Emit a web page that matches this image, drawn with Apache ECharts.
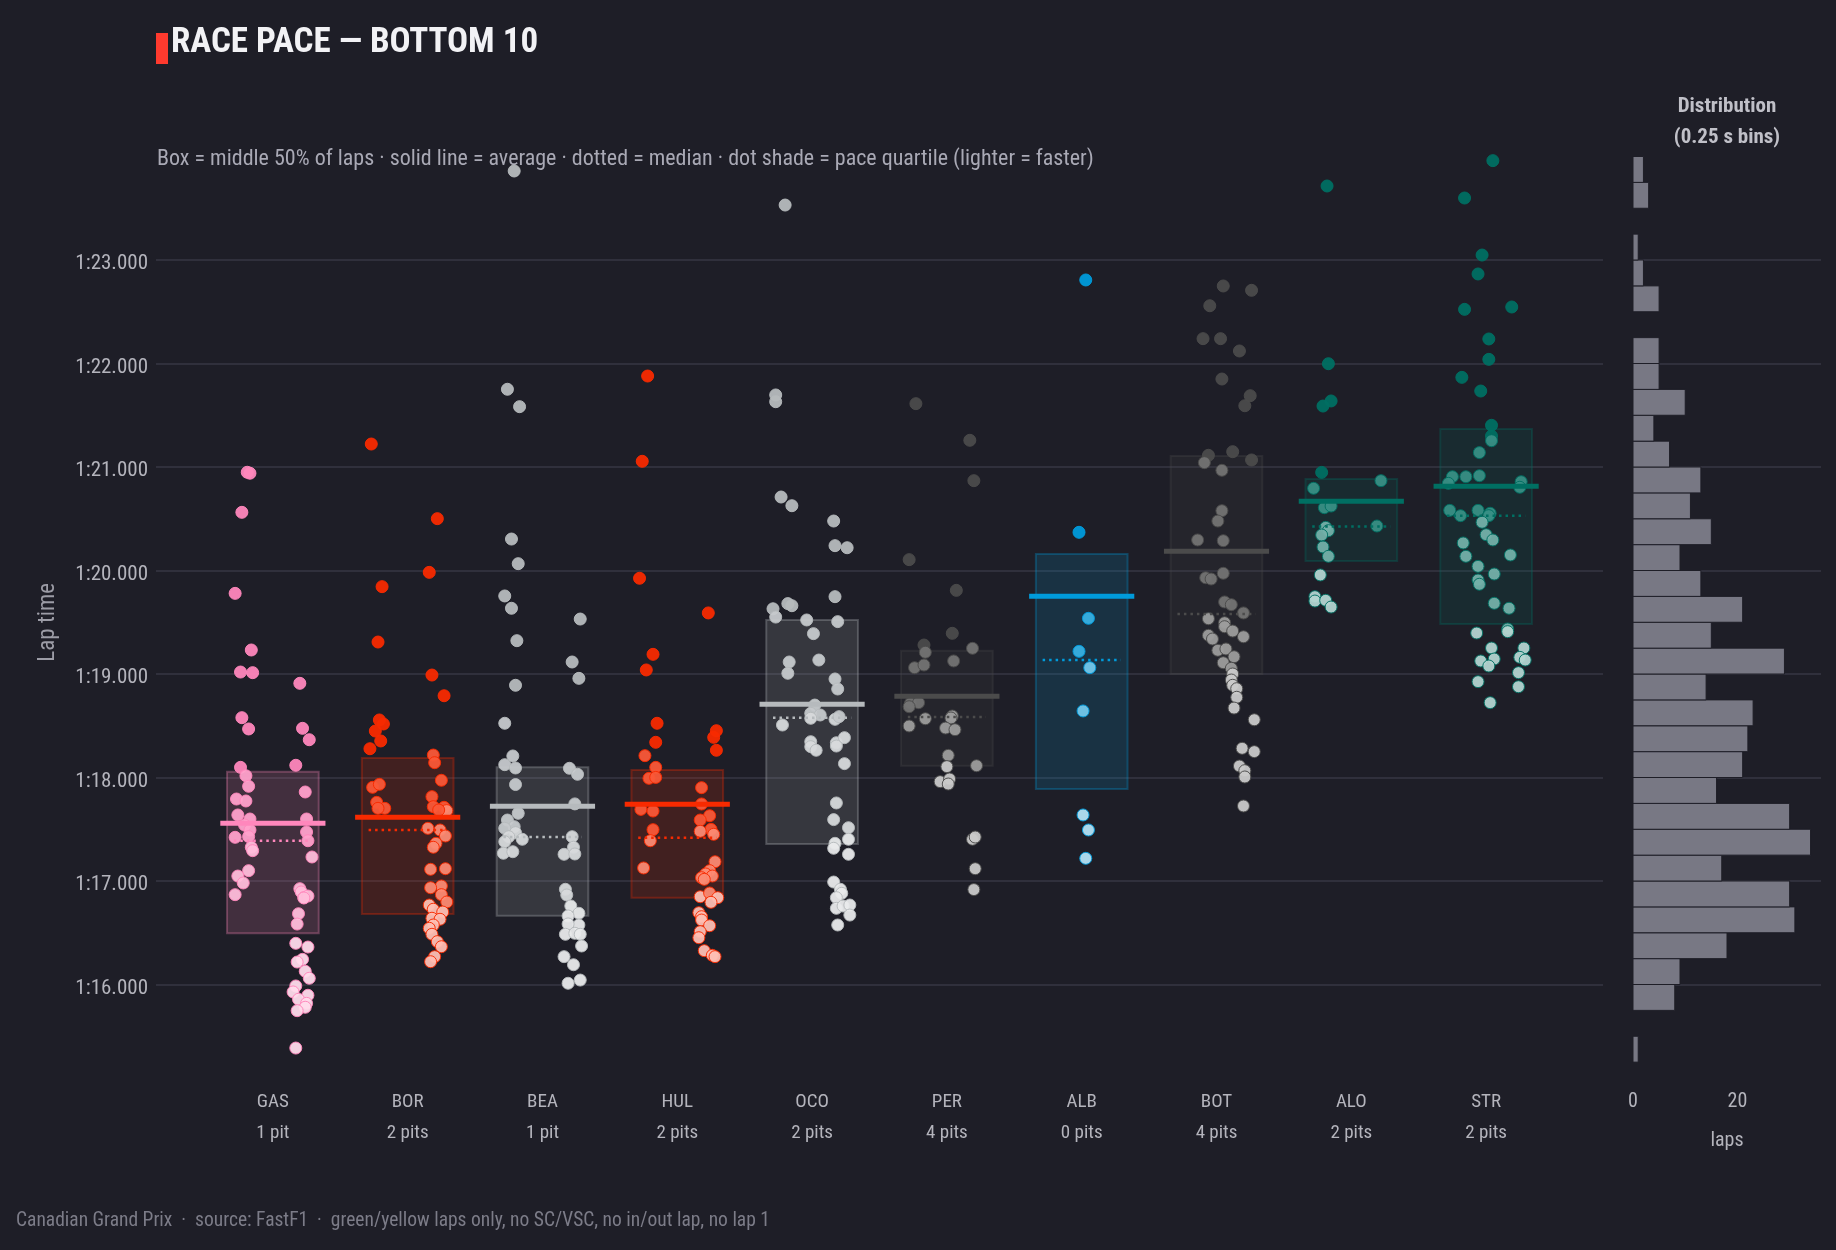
<!DOCTYPE html>
<html>
<head>
<meta charset="utf-8">
<script src="https://cdn.jsdelivr.net/npm/echarts@6/dist/echarts.min.js"></script>
<style>
  html, body { margin: 0; background: #1e1e27; }
  #chart { width: 1836px; height: 1250px; }
</style>
</head>
<body>
<div id="chart"></div>
<script>
// drivers (slowest 10 by race pace)
const drivers = ["GAS", "BOR", "BEA", "HUL", "OCO", "PER", "ALB", "BOT", "ALO", "STR"];
const pitLabels = ["1 pit", "2 pits", "1 pit", "2 pits", "2 pits", "4 pits", "0 pits", "4 pits", "2 pits", "2 pits"];
const teamColors = ["#ff87bc", "#f82a00", "#b6babd", "#f82a00", "#b6babd", "#4b4b4b", "#009bdb", "#4b4b4b", "#006f62", "#006f62"];

// box stats, seconds
const q3Times = [78.056, 78.188, 78.098, 78.072, 79.522, 79.225, 80.159, 81.106, 80.884, 81.367];
const q1Times = [76.495, 76.681, 76.665, 76.839, 77.357, 78.114, 77.889, 79.0, 80.092, 79.483];
const meanTimes = [77.557, 77.615, 77.722, 77.741, 78.707, 78.784, 79.751, 80.185, 80.669, 80.813];
const medianTimes = [77.389, 77.493, 77.425, 77.419, 78.578, 78.585, 79.135, 79.58, 80.424, 80.53];

// laps: [jitter, lap time in s]
const lapsGAS = [[-0.19,80.949],[-0.17,80.94],[-0.23,80.562],[-0.28,79.779],[-0.16,79.232],[-0.24,79.019],[-0.15,79.013],[0.20,78.91],[-0.23,78.578],[-0.18,78.469],[0.22,78.475],[0.27,78.365],[-0.24,78.098],[0.17,78.118],[-0.20,78.017],[-0.18,77.915],[0.24,77.86],[-0.27,77.792],[-0.20,77.773],[-0.26,77.638],[-0.17,77.599],[0.25,77.599],[-0.21,77.541],[-0.17,77.493],[-0.28,77.422],[-0.18,77.429],[0.25,77.473],[0.26,77.389],[-0.16,77.326],[-0.15,77.293],[0.29,77.232],[-0.18,77.1],[-0.26,77.048],[-0.22,76.981],[-0.28,76.868],[0.20,76.926],[0.21,76.894],[0.23,76.839],[0.26,76.855],[0.23,76.836],[0.19,76.684],[0.18,76.584],[0.17,76.398],[0.26,76.362],[0.22,76.243],[0.18,76.217],[0.24,76.128],[0.27,76.06],[0.17,75.986],[0.15,75.928],[0.26,75.896],[0.19,75.857],[0.25,75.818],[0.24,75.78],[0.18,75.747],[0.17,75.386]];
const lapsBOR = [[-0.27,81.222],[0.22,80.501],[0.16,79.982],[-0.19,79.844],[-0.22,79.309],[0.18,78.99],[0.27,78.79],[-0.21,78.556],[-0.18,78.517],[-0.24,78.449],[-0.20,78.353],[-0.28,78.278],[0.19,78.217],[0.20,78.143],[0.25,77.973],[-0.26,77.905],[-0.21,77.934],[0.18,77.815],[-0.23,77.76],[-0.17,77.702],[-0.22,77.702],[0.19,77.718],[0.27,77.712],[0.29,77.68],[0.23,77.686],[0.15,77.509],[0.24,77.493],[0.28,77.435],[0.21,77.364],[0.19,77.326],[0.17,77.113],[0.28,77.119],[0.25,76.952],[0.17,76.935],[0.25,76.868],[0.29,76.797],[0.16,76.768],[0.19,76.727],[0.26,76.7],[0.18,76.64],[0.24,76.63],[0.19,76.575],[0.16,76.543],[0.18,76.485],[0.22,76.414],[0.25,76.365],[0.20,76.269],[0.17,76.22]];
const lapsBEA = [[-0.21,83.86],[-0.26,81.751],[-0.17,81.583],[-0.23,80.304],[-0.18,80.066],[-0.28,79.754],[-0.23,79.635],[0.28,79.531],[-0.19,79.322],[0.22,79.116],[0.27,78.958],[-0.20,78.891],[-0.28,78.524],[-0.22,78.208],[-0.28,78.124],[-0.20,78.092],[0.20,78.089],[0.26,78.031],[-0.20,77.932],[0.24,77.745],[-0.18,77.654],[-0.26,77.589],[-0.21,77.525],[-0.28,77.509],[-0.20,77.467],[-0.25,77.428],[-0.28,77.38],[-0.15,77.403],[-0.29,77.268],[-0.22,77.283],[0.22,77.428],[0.23,77.326],[0.16,77.258],[0.24,77.261],[0.17,76.92],[0.18,76.865],[0.21,76.759],[0.27,76.688],[0.19,76.662],[0.27,76.575],[0.19,76.585],[0.17,76.485],[0.24,76.495],[0.28,76.485],[0.29,76.372],[0.16,76.269],[0.23,76.191],[0.19,76.012],[0.28,76.043]];
const lapsHUL = [[-0.22,81.879],[-0.26,81.055],[-0.28,79.925],[0.23,79.59],[-0.18,79.19],[-0.23,79.039],[-0.15,78.524],[0.29,78.452],[0.27,78.388],[-0.16,78.34],[0.29,78.263],[-0.24,78.211],[-0.16,78.098],[-0.21,77.992],[-0.16,78.001],[0.18,77.902],[0.18,77.744],[-0.27,77.692],[-0.18,77.676],[0.24,77.631],[0.17,77.589],[0.25,77.499],[0.17,77.48],[0.27,77.451],[-0.18,77.496],[-0.20,77.389],[0.28,77.186],[-0.25,77.126],[0.24,77.1],[0.21,77.068],[0.18,77.032],[0.26,77.048],[0.20,77.016],[0.17,76.848],[0.24,76.884],[0.30,76.839],[0.25,76.794],[0.16,76.694],[0.18,76.655],[0.18,76.623],[0.24,76.568],[0.17,76.51],[0.16,76.452],[0.20,76.327],[0.26,76.282],[0.28,76.269]];
const lapsOCO = [[-0.20,83.531],[-0.27,81.696],[-0.27,81.631],[-0.23,80.71],[-0.15,80.626],[0.16,80.478],[0.17,80.24],[0.26,80.22],[0.17,79.747],[-0.29,79.63],[-0.18,79.68],[-0.15,79.66],[-0.27,79.55],[-0.04,79.522],[0.19,79.506],[0.01,79.39],[-0.17,79.116],[-0.18,79.007],[0.05,79.135],[0.17,78.952],[0.19,78.855],[0.02,78.7],[-0.01,78.62],[0.06,78.604],[-0.01,78.572],[0.17,78.562],[0.20,78.588],[-0.22,78.507],[-0.01,78.346],[-0.01,78.298],[0.03,78.263],[0.18,78.336],[0.24,78.385],[0.18,78.304],[0.24,78.134],[0.18,77.754],[0.16,77.593],[0.27,77.515],[0.27,77.403],[0.17,77.364],[0.16,77.316],[0.27,77.258],[0.16,76.99],[0.21,76.92],[0.22,76.881],[0.18,76.839],[0.18,76.736],[0.23,76.758],[0.28,76.768],[0.28,76.671],[0.19,76.575]];
const lapsPER = [[-0.23,81.612],[0.17,81.258],[0.20,80.868],[-0.28,80.105],[0.07,79.808],[0.04,79.393],[-0.17,79.28],[-0.16,79.21],[0.19,79.248],[0.05,79.126],[-0.24,79.061],[-0.17,79.087],[-0.27,78.717],[-0.21,78.723],[-0.28,78.684],[-0.16,78.568],[0.04,78.594],[0.03,78.575],[-0.28,78.498],[-0.01,78.478],[0.06,78.462],[0.01,78.214],[0.00,78.105],[0.22,78.114],[-0.05,77.96],[0.02,77.986],[0.01,77.937],[0.19,77.403],[0.21,77.425],[0.21,77.119],[0.20,76.917]];
const lapsALB = [[0.03,82.807],[-0.02,80.369],[0.05,79.538],[-0.02,79.219],[0.06,79.061],[0.01,78.643],[0.01,77.638],[0.05,77.493],[0.03,77.219]];
const lapsBOT = [[0.05,82.749],[0.26,82.707],[-0.05,82.558],[-0.10,82.24],[0.03,82.24],[0.17,82.121],[0.04,81.85],[0.25,81.689],[0.21,81.592],[0.12,81.148],[-0.06,81.113],[-0.09,81.042],[0.04,80.968],[0.26,81.068],[0.04,80.578],[0.01,80.478],[-0.14,80.295],[0.05,80.288],[-0.08,79.93],[-0.04,79.918],[0.05,79.973],[0.06,79.696],[0.11,79.67],[0.20,79.59],[-0.06,79.534],[0.06,79.496],[0.06,79.457],[0.12,79.415],[0.20,79.36],[-0.06,79.374],[-0.03,79.338],[0.01,79.229],[0.07,79.242],[0.13,79.167],[0.05,79.109],[0.11,79.055],[0.12,79.0],[0.11,78.942],[0.12,78.891],[0.15,78.858],[0.15,78.775],[0.13,78.671],[0.28,78.558],[0.19,78.282],[0.28,78.25],[0.17,78.111],[0.21,78.066],[0.21,78.005],[0.20,77.725]];
const lapsALO = [[-0.18,83.715],[-0.17,81.998],[-0.15,81.638],[-0.21,81.589],[-0.22,80.948],[-0.28,80.794],[0.22,80.868],[-0.20,80.607],[-0.15,80.623],[-0.19,80.417],[-0.17,80.385],[0.19,80.43],[-0.22,80.343],[-0.21,80.227],[-0.17,80.137],[-0.23,79.957],[-0.27,79.747],[-0.27,79.705],[-0.19,79.712],[-0.15,79.647]];
const lapsSTR = [[0.05,83.96],[-0.16,83.599],[-0.03,83.048],[-0.06,82.865],[-0.16,82.523],[0.19,82.546],[0.02,82.237],[0.02,82.04],[-0.18,81.866],[-0.04,81.734],[0.04,81.403],[0.04,81.3],[0.04,81.254],[-0.05,81.139],[-0.25,80.906],[-0.15,80.906],[-0.05,80.916],[-0.28,80.842],[0.26,80.858],[0.25,80.804],[-0.27,80.581],[-0.19,80.53],[-0.06,80.581],[0.03,80.553],[0.02,80.53],[-0.03,80.466],[0.00,80.346],[0.05,80.295],[-0.17,80.266],[-0.15,80.137],[0.18,80.15],[-0.06,80.04],[0.06,79.966],[-0.06,79.908],[-0.05,79.867],[0.06,79.683],[0.17,79.635],[0.16,79.435],[0.16,79.409],[-0.07,79.396],[0.04,79.251],[0.28,79.251],[-0.04,79.126],[0.06,79.145],[0.02,79.077],[0.25,79.161],[0.29,79.135],[0.24,79.013],[-0.06,78.926],[0.24,78.877],[0.03,78.723]];
const allLaps = [lapsGAS, lapsBOR, lapsBEA, lapsHUL, lapsOCO, lapsPER, lapsALB, lapsBOT, lapsALO, lapsSTR];

// histogram of all laps, 0.25 s bins from 75.25 upward
const histStart = 75.25;
const histBin = 0.25;
const histCounts = [1, 0, 8, 9, 18, 31, 30, 17, 34, 30, 16, 21, 22, 23, 14, 29, 15, 21, 13, 9, 15, 11, 13, 7, 4, 10, 5, 5, 0, 5, 2, 1, 0, 3, 2];

const FONT = "'Liberation Sans Narrow', 'Roboto Condensed', Roboto, sans-serif";
const BG = "#1e1e27";
const GRID = "#30303c";

function fmtLap(v) {
  const m = Math.floor(v / 60);
  const s = v - m * 60;
  return m + ":" + (s < 10 ? "0" : "") + s.toFixed(3);
}

function hexToRgb(h) {
  return [parseInt(h.slice(1, 3), 16), parseInt(h.slice(3, 5), 16), parseInt(h.slice(5, 7), 16)];
}
function rgba(h, a) {
  const c = hexToRgb(h);
  return "rgba(" + c.join(",") + "," + a + ")";
}
function tint(h, f) {
  const c = hexToRgb(h).map(function (x) { return Math.round(x + (255 - x) * f); });
  return "rgb(" + c.join(",") + ")";
}

// lighter = faster: tint by pace quartile within each driver
const shadeByQuartile = [0.7, 0.45, 0.22, 0];

const scatterSeries = allLaps.map(function (laps, i) {
  const sorted = laps.map(function (p) { return p[1]; }).sort(function (a, b) { return a - b; });
  const n = sorted.length;
  const data = laps.map(function (p) {
    const rank = sorted.indexOf(p[1]);
    const q = Math.min(3, Math.floor(rank * 4 / n));
    return { value: [i + p[0], p[1]], itemStyle: { color: tint(teamColors[i], shadeByQuartile[q]) } };
  });
  return {
    type: "scatter",
    name: drivers[i],
    xAxisIndex: 0,
    yAxisIndex: 0,
    symbolSize: 12,
    z: 3,
    itemStyle: { borderColor: teamColors[i], borderWidth: 1, opacity: 0.95 },
    data: data
  };
});

const statData = drivers.map(function (d, i) {
  return [i, q1Times[i], q3Times[i], meanTimes[i], medianTimes[i]];
});

const chart = echarts.init(document.getElementById("chart"));

chart.setOption({
  backgroundColor: BG,
  animation: false,
  textStyle: { fontFamily: FONT },
  grid: [
    { left: 156, top: 156.5, width: 1447, height: 931.5 },
    { left: 1633, top: 156.5, width: 188, height: 931.5 }
  ],
  xAxis: [
    {
      type: "value", gridIndex: 0, min: -0.867, max: 9.867,
      axisLine: { show: false }, axisTick: { show: false }, splitLine: { show: false },
      axisLabel: {
        customValues: [0, 1, 2, 3, 4, 5, 6, 7, 8, 9],
        margin: 2,
        formatter: function (v) {
          const k = Math.round(v);
          return "{a|" + drivers[k] + "}\n{b|" + pitLabels[k] + "}";
        },
        rich: {
          a: { fontFamily: FONT, fontSize: 19, lineHeight: 24, color: "#b4b4bc" },
          b: { fontFamily: FONT, fontSize: 19, lineHeight: 38, color: "#b4b4bc" }
        }
      }
    },
    {
      type: "value", gridIndex: 1, min: 0, max: 36, interval: 20,
      name: "laps", nameLocation: "middle", nameGap: 43,
      nameTextStyle: { fontFamily: FONT, fontSize: 20, color: "#b4b4bc" },
      axisLine: { show: false }, axisTick: { show: false }, splitLine: { show: false },
      axisLabel: { showMaxLabel: false, margin: 4, fontFamily: FONT, fontSize: 20, color: "#b4b4bc" }
    }
  ],
  yAxis: [
    {
      type: "value", gridIndex: 0, min: 75, max: 84, interval: 1,
      name: "Lap time", nameLocation: "middle", nameGap: 96, nameRotate: 90,
      nameTextStyle: { fontFamily: FONT, fontSize: 23, color: "#9c9ca6" },
      axisLine: { show: false }, axisTick: { show: false },
      splitLine: { show: true, showMinLine: false, showMaxLine: false, lineStyle: { color: GRID, width: 2 } },
      axisLabel: {
        showMinLabel: false, showMaxLabel: false, margin: 8,
        formatter: function (v) { return "{t|" + fmtLap(v) + "}"; },
        rich: {
          t: { fontFamily: FONT, fontSize: 21, color: "#b4b4bc", padding: [8, 0, 0, 0] }
        }
      }
    },
    {
      type: "value", gridIndex: 1, min: 75, max: 84, interval: 1,
      axisLine: { show: false }, axisTick: { show: false }, axisLabel: { show: false },
      splitLine: { show: true, showMinLine: false, showMaxLine: false, lineStyle: { color: GRID, width: 2 } }
    }
  ],
  graphic: [
    { type: "rect", shape: { x: 156, y: 33, width: 12, height: 31 }, style: { fill: "#ff3a2e" } },
    { type: "text", x: 171, y: 43, style: { text: "RACE PACE — BOTTOM 10", fill: "#f2f2f5", font: "bold 35px " + FONT, textVerticalAlign: "middle" } },
    { type: "text", x: 157, y: 159, style: { text: "Box = middle 50% of laps · solid line = average · dotted = median · dot shade = pace quartile (lighter = faster)", fill: "#a9a9b5", font: "22px " + FONT, textVerticalAlign: "middle" } },
    { type: "text", x: 1727, y: 107, style: { text: "Distribution", fill: "#c0c0c8", font: "bold 21px " + FONT, textAlign: "center", textVerticalAlign: "middle" } },
    { type: "text", x: 1727, y: 138, style: { text: "(0.25 s bins)", fill: "#c0c0c8", font: "bold 21px " + FONT, textAlign: "center", textVerticalAlign: "middle" } },
    { type: "text", x: 16, y: 1221, style: { text: "Canadian Grand Prix  ·  source: FastF1  ·  green/yellow laps only, no SC/VSC, no in/out lap, no lap 1", fill: "#7c7c88", font: "19.5px " + FONT, textVerticalAlign: "middle" } }
  ],
  series: [
    // boxes: middle 50% of laps
    {
      type: "custom", xAxisIndex: 0, yAxisIndex: 0, z: 1,
      data: statData,
      renderItem: function (params, api) {
        const i = api.value(0);
        const a = api.coord([i - 0.34, api.value(2)]);
        const b = api.coord([i + 0.34, api.value(1)]);
        return {
          type: "rect",
          shape: { x: a[0], y: a[1], width: b[0] - a[0], height: b[1] - a[1] },
          style: { fill: rgba(teamColors[i], 0.16), stroke: rgba(teamColors[i], 0.3), lineWidth: 2 }
        };
      }
    }
  ].concat(scatterSeries).concat([
    // average (solid) and median (dotted)
    {
      type: "custom", xAxisIndex: 0, yAxisIndex: 0, z: 5,
      data: statData,
      renderItem: function (params, api) {
        const i = api.value(0);
        const m1 = api.coord([i - 0.39, api.value(3)]);
        const m2 = api.coord([i + 0.39, api.value(3)]);
        const d1 = api.coord([i - 0.29, api.value(4)]);
        const d2 = api.coord([i + 0.29, api.value(4)]);
        return {
          type: "group",
          children: [
            { type: "line", shape: { x1: m1[0], y1: m1[1], x2: m2[0], y2: m2[1] }, style: { stroke: teamColors[i], lineWidth: 5 } },
            { type: "line", shape: { x1: d1[0], y1: d1[1], x2: d2[0], y2: d2[1] }, style: { stroke: teamColors[i], lineWidth: 2.5, lineDash: [2.5, 4] } }
          ]
        };
      }
    },
    // distribution histogram
    {
      type: "custom", xAxisIndex: 1, yAxisIndex: 1, z: 2,
      data: histCounts.map(function (c, k) { return [histStart + k * histBin, c]; }),
      renderItem: function (params, api) {
        const lo = api.value(0);
        const c = api.value(1);
        if (!c) return null;
        const a = api.coord([0, lo + histBin]);
        const b = api.coord([c, lo]);
        return {
          type: "rect",
          shape: { x: a[0], y: a[1], width: b[0] - a[0], height: b[1] - a[1] },
          style: { fill: "#787884", stroke: BG, lineWidth: 1 }
        };
      }
    }
  ])
});
</script>
</body>
</html>
